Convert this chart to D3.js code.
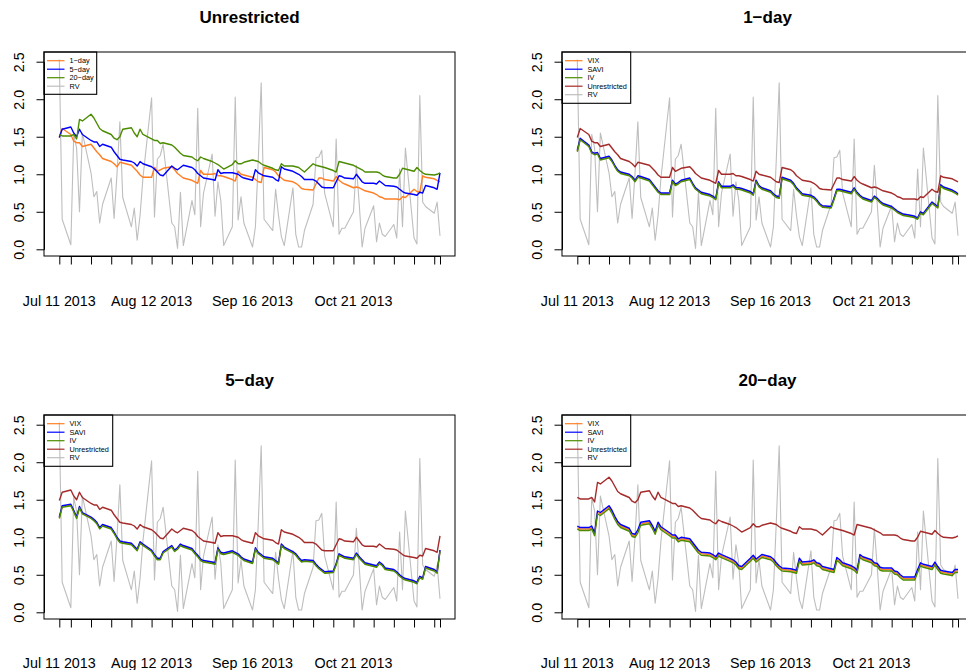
<!DOCTYPE html>
<html><head><meta charset="utf-8">
<script src="https://cdn.jsdelivr.net/npm/d3@7"></script>
<style>body{margin:0;background:#fff;overflow:hidden} svg{display:block;font-family:"Liberation Sans",Arial,Helvetica,sans-serif}</style>
</head><body><svg id="c" width="966" height="670"></svg>
<script>
// ---------- data ----------
const dates = [
"2013-07-11","2013-07-12",
"2013-07-15","2013-07-16","2013-07-17","2013-07-18","2013-07-19",
"2013-07-22","2013-07-23","2013-07-24","2013-07-25","2013-07-26",
"2013-07-29","2013-07-30","2013-07-31","2013-08-01","2013-08-02",
"2013-08-05","2013-08-06","2013-08-07","2013-08-08","2013-08-09",
"2013-08-12","2013-08-13","2013-08-14","2013-08-15","2013-08-16",
"2013-08-19","2013-08-20","2013-08-21","2013-08-22","2013-08-23",
"2013-08-26","2013-08-27","2013-08-28","2013-08-29","2013-08-30",
"2013-09-02","2013-09-03","2013-09-04","2013-09-05","2013-09-06",
"2013-09-09","2013-09-10","2013-09-11","2013-09-12","2013-09-13",
"2013-09-16","2013-09-17","2013-09-18","2013-09-19","2013-09-20",
"2013-09-23","2013-09-24","2013-09-25","2013-09-26","2013-09-27",
"2013-09-30","2013-10-01","2013-10-02","2013-10-03","2013-10-04",
"2013-10-07","2013-10-08","2013-10-09","2013-10-10","2013-10-11",
"2013-10-14","2013-10-15","2013-10-16","2013-10-17","2013-10-18",
"2013-10-21","2013-10-22","2013-10-23","2013-10-24","2013-10-25",
"2013-10-28","2013-10-29","2013-10-30","2013-10-31","2013-11-01",
"2013-11-04","2013-11-05","2013-11-06","2013-11-07","2013-11-08",
"2013-11-11","2013-11-12","2013-11-13","2013-11-14","2013-11-15",
"2013-11-18","2013-11-19","2013-11-20"];

const rv = [2.53,0.40,
0.06,1.53,1.35,0.50,1.55, 1.02,0.70,0.77,0.35,0.60, 0.95,0.41,1.00,1.70,0.69,
0.30,0.55,0.12,0.45,0.95, 2.02,0.43,1.20,1.25,1.40, 0.35,0.30,0.01,0.76,0.05,
0.65,0.46,1.88,0.30,0.75, 1.27,0.44,0.90,0.65,0.05, 0.30,2.03,0.39,0.70,0.35,
0.03,0.30,1.20,2.22,0.40, 0.25,0.80,0.45,0.17,0.05, 0.82,0.20,0.03,0.03,0.25,
0.60,1.22,1.23,1.32,0.75, 0.30,1.47,0.20,0.28,0.28, 0.50,1.12,0.60,0.03,0.28,
0.58,0.10,0.35,0.20,0.17, 0.33,0.15,1.07,0.30,1.35, 0.15,0.07,2.05,0.63,0.57,
0.48,0.63,0.18];

const unr1 = [1.49,1.61,
1.53,1.44,1.42,1.42,1.37, 1.40,1.35,1.30,1.26,1.21, 1.17,1.14,1.10,1.16,1.15,
1.12,1.08,1.04,0.99,0.96, 0.96,1.09,1.04,1.06,1.08, 1.10,1.06,1.01,0.98,0.95,
0.92,0.90,0.88,1.05,1.00, 1.00,1.01,0.98,0.98,0.97, 0.93,0.91,1.04,1.00,0.99,
0.96,0.93,0.90,0.89,1.09, 1.06,1.03,0.98,0.95,0.92, 0.90,0.88,0.85,0.81,0.80,
0.79,0.87,0.95,0.95,0.93, 0.91,0.97,0.92,0.89,0.87, 0.82,0.83,0.82,0.80,0.78,
0.75,0.73,0.70,0.69,0.67, 0.67,0.67,0.66,0.70,0.69, 0.80,0.77,0.76,0.98,0.96,
0.94,0.92,0.90];

const unr5 = [1.49,1.60,
1.63,1.55,1.50,1.60,1.53, 1.45,1.43,1.43,1.37,1.40, 1.36,1.30,1.25,1.20,1.19,
1.17,1.15,1.11,1.17,1.14, 1.10,1.07,1.03,0.99,0.98, 1.11,1.08,1.06,1.09,1.12,
1.09,1.06,1.01,0.98,0.95, 0.93,0.92,1.06,1.01,1.02, 1.02,1.01,1.00,0.97,0.95,
0.92,1.06,1.02,1.00,0.98, 0.96,0.93,0.91,1.10,1.07, 1.04,1.02,1.00,0.97,0.93,
0.93,0.91,0.87,0.83,0.82, 0.82,0.90,0.98,0.97,0.95, 0.94,1.00,0.95,0.90,0.88,
0.88,0.87,0.91,0.88,0.85, 0.84,0.83,0.80,0.77,0.75, 0.73,0.72,0.76,0.75,0.85,
0.82,0.80,1.02];

const unr20 = [1.53,1.51,
1.51,1.53,1.47,1.73,1.71, 1.80,1.75,1.68,1.61,1.58, 1.53,1.48,1.46,1.50,1.60,
1.62,1.55,1.50,1.60,1.53, 1.47,1.45,1.45,1.41,1.42, 1.39,1.36,1.32,1.28,1.25,
1.23,1.20,1.18,1.23,1.21, 1.17,1.15,1.13,1.10,1.07, 1.13,1.18,1.14,1.14,1.16,
1.19,1.18,1.17,1.14,1.12, 1.08,1.06,1.05,1.14,1.11, 1.11,1.10,1.09,1.06,1.03,
1.14,1.12,1.11,1.10,1.09, 1.05,1.03,1.17,1.16,1.15, 1.12,1.10,1.08,1.06,1.03,
1.03,1.03,1.02,0.99,0.97, 0.95,0.95,1.00,1.08,1.07, 1.04,1.09,1.05,1.02,1.00,
0.99,1.00,1.02];

const savi1 = [1.32,1.48,
1.39,1.30,1.28,1.29,1.21, 1.24,1.19,1.12,1.06,1.03, 1.00,0.97,0.92,0.98,0.97,
0.93,0.88,0.83,0.78,0.75, 0.75,0.92,0.87,0.89,0.92, 0.95,0.88,0.82,0.79,0.76,
0.73,0.71,0.68,0.90,0.84, 0.84,0.86,0.82,0.82,0.81, 0.77,0.74,0.92,0.85,0.82,
0.78,0.74,0.71,0.70,0.96, 0.92,0.88,0.82,0.78,0.74, 0.72,0.70,0.66,0.61,0.58,
0.57,0.68,0.80,0.80,0.79, 0.76,0.82,0.76,0.72,0.69, 0.65,0.71,0.68,0.64,0.61,
0.57,0.54,0.51,0.49,0.47, 0.45,0.44,0.42,0.50,0.48, 0.63,0.60,0.57,0.86,0.83,
0.79,0.77,0.74];
const vix1 = [1.31,1.47,
1.38,1.29,1.27,1.28,1.20, 1.23,1.18,1.11,1.05,1.02, 0.99,0.96,0.91,0.97,0.96,
0.92,0.87,0.82,0.77,0.74, 0.74,0.91,0.86,0.88,0.91, 0.94,0.87,0.81,0.78,0.75,
0.72,0.70,0.67,0.89,0.83, 0.83,0.85,0.81,0.81,0.80, 0.76,0.73,0.91,0.84,0.81,
0.77,0.73,0.70,0.69,0.95, 0.91,0.87,0.81,0.77,0.73, 0.71,0.69,0.65,0.60,0.57,
0.56,0.67,0.79,0.79,0.78, 0.75,0.81,0.75,0.71,0.68, 0.64,0.70,0.67,0.63,0.60,
0.56,0.53,0.50,0.48,0.46, 0.44,0.43,0.41,0.49,0.47, 0.62,0.59,0.56,0.85,0.82,
0.78,0.76,0.73];
const iv1 = [1.30,1.46,
1.37,1.28,1.26,1.27,1.19, 1.22,1.17,1.10,1.04,1.01, 0.98,0.95,0.90,0.96,0.95,
0.91,0.86,0.81,0.76,0.73, 0.73,0.90,0.85,0.87,0.90, 0.93,0.86,0.80,0.77,0.74,
0.71,0.69,0.66,0.88,0.82, 0.82,0.84,0.80,0.80,0.79, 0.75,0.72,0.90,0.83,0.80,
0.76,0.72,0.69,0.68,0.94, 0.90,0.86,0.80,0.76,0.72, 0.70,0.68,0.64,0.59,0.56,
0.55,0.66,0.78,0.78,0.77, 0.74,0.80,0.74,0.70,0.67, 0.63,0.69,0.66,0.62,0.59,
0.55,0.52,0.49,0.47,0.45, 0.43,0.42,0.40,0.48,0.46, 0.61,0.58,0.55,0.84,0.81,
0.77,0.75,0.72];

const savi5 = [1.27,1.42,
1.44,1.36,1.27,1.41,1.33, 1.27,1.24,1.20,1.13,1.17, 1.13,1.07,1.00,0.95,0.94,
0.92,0.88,0.84,0.94,0.91, 0.83,0.77,0.72,0.72,0.81, 0.89,0.83,0.86,0.91,0.89,
0.85,0.80,0.76,0.71,0.69, 0.67,0.66,0.86,0.80,0.79, 0.82,0.80,0.78,0.74,0.71,
0.67,0.86,0.80,0.77,0.74, 0.72,0.69,0.66,0.91,0.87, 0.81,0.78,0.73,0.69,0.70,
0.69,0.64,0.60,0.57,0.54, 0.55,0.65,0.78,0.76,0.74, 0.72,0.79,0.74,0.70,0.66,
0.63,0.62,0.67,0.64,0.59, 0.57,0.54,0.50,0.47,0.45, 0.42,0.40,0.48,0.46,0.61,
0.57,0.54,0.83];
const vix5 = [1.26,1.41,
1.43,1.35,1.26,1.40,1.32, 1.26,1.23,1.19,1.12,1.16, 1.12,1.06,0.99,0.94,0.93,
0.91,0.87,0.83,0.93,0.90, 0.82,0.76,0.71,0.71,0.80, 0.88,0.82,0.85,0.90,0.88,
0.84,0.79,0.75,0.70,0.68, 0.66,0.65,0.85,0.79,0.78, 0.81,0.79,0.77,0.73,0.70,
0.66,0.85,0.79,0.76,0.73, 0.71,0.68,0.65,0.90,0.86, 0.80,0.77,0.72,0.68,0.69,
0.68,0.63,0.59,0.56,0.53, 0.54,0.64,0.77,0.75,0.73, 0.71,0.78,0.73,0.69,0.65,
0.62,0.61,0.66,0.63,0.58, 0.56,0.53,0.49,0.46,0.44, 0.41,0.39,0.47,0.45,0.60,
0.56,0.53,0.82];
const iv5 = [1.25,1.40,
1.42,1.34,1.25,1.39,1.31, 1.25,1.22,1.18,1.11,1.15, 1.11,1.05,0.98,0.93,0.92,
0.90,0.86,0.82,0.92,0.89, 0.81,0.75,0.70,0.70,0.79, 0.87,0.81,0.84,0.89,0.87,
0.83,0.78,0.74,0.69,0.67, 0.65,0.64,0.84,0.78,0.77, 0.80,0.78,0.76,0.72,0.69,
0.65,0.84,0.78,0.75,0.72, 0.70,0.67,0.64,0.89,0.85, 0.79,0.76,0.71,0.67,0.68,
0.67,0.62,0.58,0.55,0.52, 0.53,0.63,0.76,0.74,0.72, 0.70,0.77,0.72,0.68,0.64,
0.61,0.60,0.65,0.62,0.57, 0.55,0.52,0.48,0.45,0.43, 0.40,0.38,0.46,0.44,0.59,
0.55,0.52,0.81];

const savi20 = [1.15,1.13,
1.13,1.15,1.06,1.35,1.33, 1.42,1.36,1.28,1.21,1.17, 1.12,1.05,1.04,1.10,1.20,
1.22,1.16,1.08,1.20,1.14, 1.06,1.03,1.03,0.98,1.00, 0.98,0.93,0.88,0.83,0.80,
0.79,0.77,0.74,0.79,0.77, 0.72,0.70,0.67,0.62,0.61, 0.72,0.76,0.71,0.74,0.77,
0.74,0.71,0.66,0.62,0.59, 0.58,0.57,0.56,0.72,0.67, 0.68,0.70,0.66,0.65,0.61,
0.58,0.57,0.73,0.70,0.66, 0.62,0.60,0.56,0.77,0.74, 0.70,0.66,0.65,0.60,0.59,
0.59,0.55,0.54,0.50,0.47, 0.47,0.47,0.57,0.66,0.64, 0.61,0.67,0.61,0.56,0.55,
0.53,0.57,0.57];
const vix20 = [1.13,1.11,
1.11,1.13,1.04,1.33,1.31, 1.40,1.34,1.26,1.19,1.15, 1.10,1.03,1.02,1.08,1.18,
1.20,1.14,1.06,1.18,1.12, 1.04,1.01,1.01,0.96,0.98, 0.96,0.91,0.86,0.81,0.78,
0.77,0.75,0.72,0.77,0.75, 0.70,0.68,0.65,0.60,0.59, 0.70,0.74,0.69,0.72,0.75,
0.72,0.69,0.64,0.60,0.57, 0.56,0.55,0.54,0.70,0.65, 0.66,0.68,0.64,0.63,0.59,
0.56,0.55,0.71,0.68,0.64, 0.60,0.58,0.54,0.75,0.72, 0.68,0.64,0.63,0.58,0.57,
0.57,0.53,0.52,0.48,0.45, 0.45,0.45,0.55,0.64,0.62, 0.59,0.65,0.59,0.54,0.53,
0.51,0.55,0.55];
const iv20 = [1.11,1.09,
1.09,1.11,1.02,1.31,1.29, 1.38,1.32,1.24,1.17,1.13, 1.08,1.01,1.00,1.06,1.16,
1.18,1.12,1.04,1.16,1.10, 1.02,0.99,0.99,0.94,0.96, 0.94,0.89,0.84,0.79,0.76,
0.75,0.73,0.70,0.75,0.73, 0.68,0.66,0.63,0.58,0.57, 0.68,0.72,0.67,0.70,0.73,
0.70,0.67,0.62,0.58,0.55, 0.54,0.53,0.52,0.68,0.63, 0.64,0.66,0.62,0.61,0.57,
0.54,0.53,0.69,0.66,0.62, 0.58,0.56,0.52,0.73,0.70, 0.66,0.62,0.61,0.56,0.55,
0.55,0.51,0.50,0.46,0.43, 0.43,0.43,0.53,0.62,0.60, 0.57,0.63,0.57,0.52,0.51,
0.49,0.53,0.53];

const yTicks = [0, 0.5, 1, 1.5, 2, 2.5];
const xLabelDates = ["2013-07-11","2013-08-12","2013-09-16","2013-10-21"];
const xLabels = ["Jul 11 2013","Aug 12 2013","Sep 16 2013","Oct 21 2013"];
const titles = ["Unrestricted","1\u2212day","5\u2212day","20\u2212day"];

// ---------- drawing ----------
const C = {orange:"#FF7F24", blue:"#0000FF", green:"#4C8C00", red:"#A52A2A", gray:"#BEBEBE"};
const parse = d3.utcParse("%Y-%m-%d");
const D = dates.map(parse);
const x = d3.scaleUtc().domain([D[0], D[D.length-1]]).range([59.3, 440]);
const y = d3.scaleLinear().domain([0, 2.5]).range([249.3, 61.7]);
const box = {l:44, r:455, t:52, b:256};
const tickDates = [D[0], ...d3.utcMonday.range(d3.utcDay.offset(D[0],1), D[D.length-1]), D[D.length-1]];

const svg = d3.select("#c");
const panels = [
  {dx:0, dy:0, labY:305.5, title:titles[0], lw:52.7, series:[
     {v:rv,c:C.gray,w:1.1},
     {v:unr1,c:C.orange,w:1.4},
     {v:unr5,c:C.blue,w:1.4},
     {v:unr20,c:C.green,w:1.4}],
   legend:[["1\u2212day",C.orange],["5\u2212day",C.blue],["20\u2212day",C.green],["RV",C.gray]]},
  {dx:518, dy:0, labY:305.5, title:titles[1], lw:68.7, series:[
     {v:rv,c:C.gray,w:1.1},{v:vix1,c:C.orange,w:1.4},{v:savi1,c:C.blue,w:1.4},{v:iv1,c:C.green,w:1.4},{v:unr1,c:C.red,w:1.4}]},
  {dx:0, dy:363, labY:304.5, title:titles[2], lw:68.7, series:[
     {v:rv,c:C.gray,w:1.1},{v:vix5,c:C.orange,w:1.4},{v:savi5,c:C.blue,w:1.4},{v:iv5,c:C.green,w:1.4},{v:unr5,c:C.red,w:1.4}]},
  {dx:518, dy:363, labY:304.5, title:titles[3], lw:68.7, series:[
     {v:rv,c:C.gray,w:1.1},{v:vix20,c:C.orange,w:1.4},{v:savi20,c:C.blue,w:1.4},{v:iv20,c:C.green,w:1.4},{v:unr20,c:C.red,w:1.4}]}
];
const legend5 = [["VIX",C.orange],["SAVI",C.blue],["IV",C.green],["Unrestricted",C.red],["RV",C.gray]];

panels.forEach((p, i) => {
  const g = svg.append("g").attr("transform", `translate(${p.dx},${p.dy})`);
  const cid = "clip" + i;
  g.append("clipPath").attr("id", cid).append("rect")
    .attr("x", box.l).attr("y", box.t).attr("width", box.r - box.l).attr("height", box.b - box.t);
  const line = d3.line().x((d, k) => x(D[k])).y(d => y(d));
  const lg = g.append("g").attr("clip-path", `url(#${cid})`);
  p.series.forEach(s => {
    lg.append("path").attr("d", line(s.v)).attr("fill", "none")
      .attr("stroke", s.c).attr("stroke-width", s.w).attr("stroke-linejoin", "round");
  });
  g.append("rect").attr("x", box.l).attr("y", box.t).attr("width", box.r - box.l).attr("height", box.b - box.t)
    .attr("fill", "none").attr("stroke", "#000").attr("stroke-width", 1);
  const ya = g.append("g").attr("transform", `translate(${box.l},0)`)
    .call(d3.axisLeft(y).tickValues(yTicks).tickFormat(d3.format(".1f")).tickSize(7.5).tickSizeOuter(0));
  ya.select(".domain").attr("stroke", "#000");
  ya.selectAll("line").attr("stroke", "#000");
  ya.selectAll("text").attr("transform", "rotate(-90)").attr("x", 0).attr("y", -20).attr("dy", 0)
    .attr("text-anchor", "middle").attr("font-size", "14.3px").attr("font-family", null).attr("fill", "#000");
  const xa = g.append("g").attr("transform", `translate(0,${box.b})`)
    .call(d3.axisBottom(x).tickValues(tickDates).tickFormat("").tickSize(8.5).tickSizeOuter(0));
  xa.select(".domain").attr("stroke", "#000");
  xa.selectAll("line").attr("stroke", "#000");
  g.selectAll(".xlab").data(xLabelDates).enter().append("text")
    .attr("x", d => x(parse(d))).attr("y", p.labY).attr("text-anchor", "middle")
    .attr("font-size", "14.3px").attr("fill", "#000").text((d, k) => xLabels[k]);
  g.append("text").attr("x", (box.l + box.r) / 2).attr("y", 22.7).attr("text-anchor", "middle")
    .attr("font-size", "17px").attr("font-weight", "bold").attr("fill", "#000").text(p.title);
  const items = i === 0 ? p.legend : legend5;
  const rowY = [60.7, 69.2, 77.7, 86.2, 94.7];
  const lh = i === 0 ? 94.3 - 52 : 103.3 - 52;
  g.append("rect").attr("x", box.l).attr("y", box.t).attr("width", p.lw).attr("height", lh)
    .attr("fill", "none").attr("stroke", "#000").attr("stroke-width", 1.1);
  items.forEach((it, k) => {
    g.append("line").attr("x1", 47).attr("x2", 64.5).attr("y1", rowY[k]).attr("y2", rowY[k])
      .attr("stroke", it[1]).attr("stroke-width", 1.2);
    g.append("text").attr("x", 69.5).attr("y", rowY[k] + 2.6).attr("font-size", "7.3px")
      .attr("fill", "#000").text(it[0]);
  });
});
</script>
</body></html>
